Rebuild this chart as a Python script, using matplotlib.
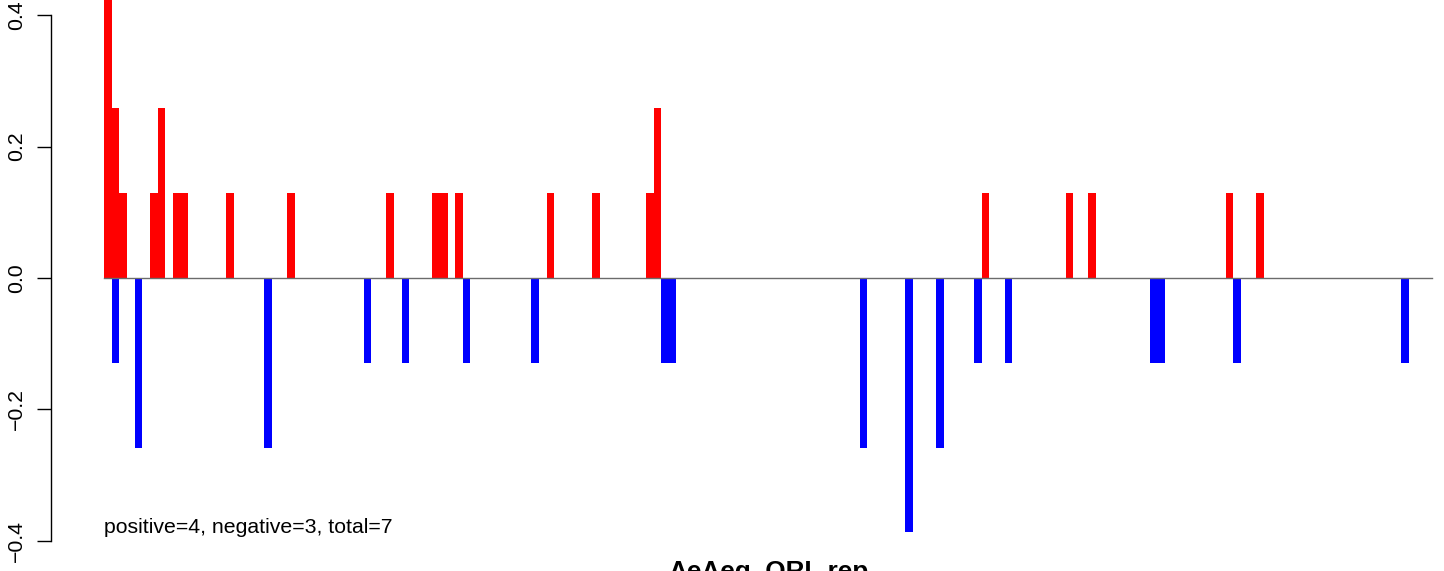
import matplotlib
matplotlib.use("Agg")
import matplotlib.pyplot as plt
import numpy as np

plt.rcParams['font.family'] = ['Liberation Sans', 'DejaVu Sans']

# bar slots along the x axis (space=0 barplot)
n_slots = 174

# positive (red) bars: slot index and height
pos_index = [0, 1, 2, 6, 7, 9, 10, 16, 24, 37, 43, 44, 46, 58, 64, 71, 72,
             115, 126, 129, 147, 151]
pos_value = [0.516, 0.258, 0.129, 0.129, 0.258, 0.129, 0.129, 0.129, 0.129,
             0.129, 0.129, 0.129, 0.129, 0.129, 0.129, 0.129, 0.258,
             0.129, 0.129, 0.129, 0.129, 0.129]

# negative (blue) bars
neg_index = [1, 4, 21, 34, 39, 47, 56, 73, 74, 99, 105, 109, 114, 118,
             137, 138, 148, 170]
neg_value = [-0.129, -0.258, -0.258, -0.129, -0.129, -0.129, -0.129, -0.129,
             -0.129, -0.258, -0.387, -0.258, -0.129, -0.129, -0.129, -0.129,
             -0.129, -0.129]

y_ticks = [-0.4, -0.2, 0.0, 0.2, 0.4]
summary = "positive=4, negative=3, total=7"
title = "AeAeg_ORL.rep"

pos = np.zeros(n_slots)
pos[pos_index] = pos_value
neg = np.zeros(n_slots)
neg[neg_index] = neg_value

W, H = 1444, 571
fig = plt.figure(figsize=(W / 100, H / 100), dpi=100)
# plot region runs a little past the right and top edges of the picture
ax = fig.add_axes([51 / W, 9 / H, 1434 / W, 568 / H])
ax.patch.set_alpha(0)

x = np.arange(n_slots)
ax.bar(x, pos, width=1.0, align='edge', color='#ff0000', linewidth=0)
ax.bar(x, neg, width=1.0, align='edge', color='#0000ff', linewidth=0)
ax.plot([0, n_slots], [0, 0], color='#6b6b6b', lw=1.0, zorder=3)

ax.set_xlim(-0.04 * n_slots, 1.04 * n_slots)
ax.set_ylim(-0.432, 0.432)

for s in ['top', 'right', 'bottom']:
    ax.spines[s].set_visible(False)
ax.spines['left'].set_bounds(-0.4, 0.4)
ax.spines['left'].set_linewidth(1.0)
ax.set_xticks([])
ax.set_yticks(y_ticks)
ax.set_yticklabels([('%.1f' % v).replace('-', '\u2212') for v in y_ticks],
                   rotation=90, va='center')
ax.tick_params(axis='y', length=10, width=1.0, pad=8, labelsize=15.3)

ax.text(0, -0.379, summary, fontsize=15.3, ha='left', va='center')

fig.text(769 / W, -8 / H, title, fontsize=18.8, fontweight='bold',
         ha='center', va='baseline')

fig.savefig('out.png', dpi=100)
